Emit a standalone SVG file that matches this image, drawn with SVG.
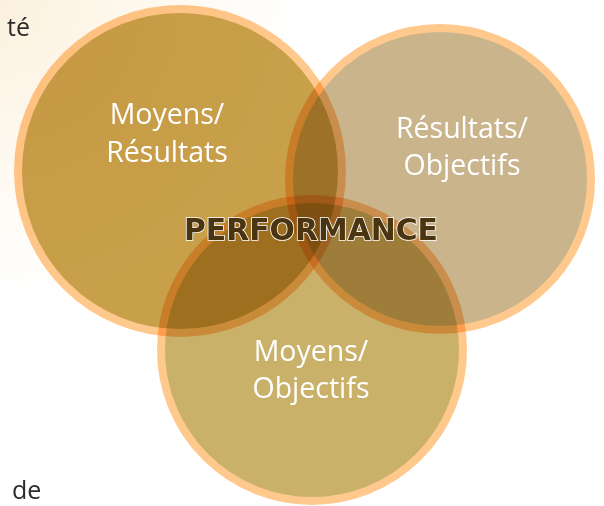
<svg xmlns="http://www.w3.org/2000/svg" width="604" height="506" viewBox="0 0 604 506">
  <defs>
    <radialGradient id="glow" cx="0" cy="0" r="300" gradientUnits="userSpaceOnUse">
      <stop offset="0" stop-color="#FCF1DE"/>
      <stop offset="0.55" stop-color="#FEF9F1"/>
      <stop offset="1" stop-color="#FFFFFF"/>
    </radialGradient>
    <style>
      .c { stroke: #FFC88C; stroke-width: 8; mix-blend-mode: multiply; }
      .lbl { font-family: "Open Sans", "DejaVu Sans", sans-serif; font-size: 28.5px; fill: #FFFFFF; text-anchor: middle; }
      .side { font-family: "Open Sans", "Liberation Sans", sans-serif; font-size: 25px; fill: #2B2B2B; }
      .perf { font-family: "DejaVu Sans", "Liberation Sans", sans-serif; font-size: 30px; font-weight: bold; fill: #4A3510; stroke: #FFFFFF; stroke-width: 1.6; paint-order: stroke; text-anchor: middle; }
    </style>
  </defs>
  <rect width="604" height="506" fill="url(#glow)"/>
  <text class="side" x="30" y="36" text-anchor="end">té</text>
  <text class="side" x="12" y="499">de</text>
  <g id="node-moyens-resultats">
    <circle class="c" cx="180" cy="171" r="162" fill="#C8A04A"/>
  </g>
  <g id="node-resultats-objectifs">
    <circle class="c" cx="440" cy="179" r="151" fill="#C9B48C"/>
  </g>
  <g id="node-moyens-objectifs">
    <circle class="c" cx="312" cy="350" r="151" fill="#C9B16A"/>
  </g>
  <g id="labels">
    <text class="lbl" x="167" y="124">Moyens/</text>
    <text class="lbl" x="167" y="162">Résultats</text>
    <text class="lbl" x="462" y="138">Résultats/</text>
    <text class="lbl" x="462" y="175">Objectifs</text>
    <text class="lbl" x="311" y="361">Moyens/</text>
    <text class="lbl" x="311" y="398">Objectifs</text>
  </g>
  <g id="node-performance">
    <text class="perf" x="311" y="240" textLength="254" lengthAdjust="spacingAndGlyphs">PERFORMANCE</text>
  </g>
  <g id="connectors"/>
</svg>
